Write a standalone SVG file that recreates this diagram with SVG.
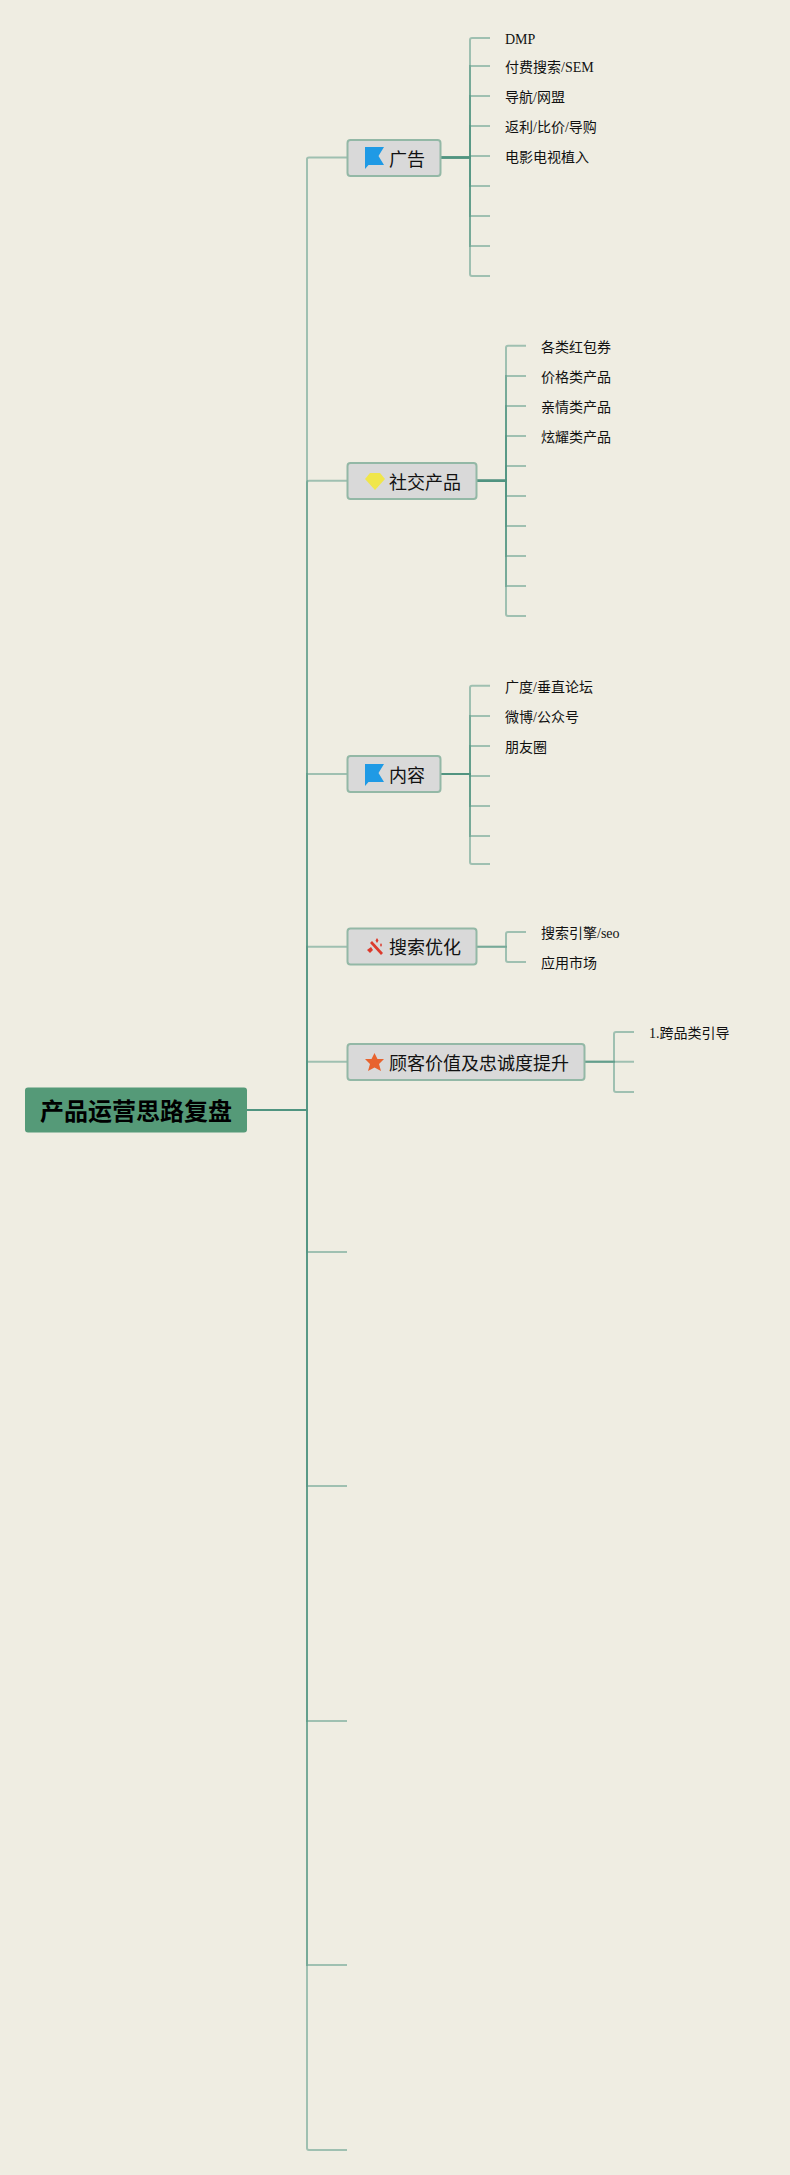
<svg xmlns="http://www.w3.org/2000/svg" width="790" height="2175" viewBox="0 0 790 2175">
<style>
.c{fill:none;stroke:#4f9480;stroke-width:2;stroke-opacity:.5}
.n{fill:#d9d9d9;stroke:#93b8a6;stroke-width:2}
.t{font-family:"Noto Sans CJK SC","Liberation Sans",sans-serif;font-size:18px;fill:#111}
.s{font-family:"Liberation Serif","Noto Sans CJK SC",serif;font-size:14px;fill:#111}
.r{font-family:"Noto Sans CJK SC","Liberation Sans",sans-serif;font-size:24px;font-weight:700;fill:#000}
</style>
<defs><path id="flag" d="M365 147H384L378.500 156L384 165H368.500L365 169Z" fill="#1f9ae5"/></defs>
<rect width="790" height="2175" fill="#efede2"/>
<g id="connectors">
<path class="c" d="M247 1110H307V159Q307 157.500 309 157.500H347"/>
<path class="c" d="M247 1110H307V482.700Q307 480.700 309 480.700H347"/>
<path class="c" d="M247 1110H307V774H347"/>
<path class="c" d="M247 1110H307V946.700H347"/>
<path class="c" d="M247 1110H307V1061.700H347"/>
<path class="c" d="M247 1110H307V1252H347"/>
<path class="c" d="M247 1110H307V1486H347"/>
<path class="c" d="M247 1110H307V1721H347"/>
<path class="c" d="M247 1110H307V1965H347"/>
<path class="c" d="M247 1110H307V2148Q307 2150 309 2150H347"/>
<path class="c" d="M440 157.500H470V40Q470 38 472 38H490"/>
<path class="c" d="M440 157.500H470V66H490"/>
<path class="c" d="M440 157.500H470V96H490"/>
<path class="c" d="M440 157.500H470V126H490"/>
<path class="c" d="M440 157.500H470V156H490"/>
<path class="c" d="M440 157.500H470V186H490"/>
<path class="c" d="M440 157.500H470V216H490"/>
<path class="c" d="M440 157.500H470V246H490"/>
<path class="c" d="M440 157.500H470V274Q470 276 472 276H490"/>
<path class="c" d="M476 480.700H506V347.700Q506 345.700 508 345.700H526"/>
<path class="c" d="M476 480.700H506V376H526"/>
<path class="c" d="M476 480.700H506V406H526"/>
<path class="c" d="M476 480.700H506V436H526"/>
<path class="c" d="M476 480.700H506V466H526"/>
<path class="c" d="M476 480.700H506V496H526"/>
<path class="c" d="M476 480.700H506V526H526"/>
<path class="c" d="M476 480.700H506V556H526"/>
<path class="c" d="M476 480.700H506V586H526"/>
<path class="c" d="M476 480.700H506V614Q506 616 508 616H526"/>
<path class="c" d="M440 774H470V687.700Q470 685.700 472 685.700H490"/>
<path class="c" d="M440 774H470V716H490"/>
<path class="c" d="M440 774H470V746H490"/>
<path class="c" d="M440 774H470V776H490"/>
<path class="c" d="M440 774H470V806H490"/>
<path class="c" d="M440 774H470V836H490"/>
<path class="c" d="M440 774H470V862Q470 864 472 864H490"/>
<path class="c" d="M476 946.700H506V934Q506 932 508 932H526"/>
<path class="c" d="M476 946.700H506V960Q506 962 508 962H526"/>
<path class="c" d="M584 1061.700H614V1034Q614 1032 616 1032H634"/>
<path class="c" d="M584 1061.700H634"/>
<path class="c" d="M584 1061.700H614V1090Q614 1092 616 1092H634"/>
</g>
<g id="root"><rect x="25" y="1087.500" width="222" height="45" rx="3" fill="#559a78"/><text class="r" x="40" y="1120">产品运营思路复盘</text></g>
<g id="node-ad"><rect class="n" x="347.500" y="140" width="93" height="36" rx="3"/><use href="#flag"/><text class="t" x="389" y="165.500">广告</text></g>
<g id="node-social"><rect class="n" x="347.500" y="463" width="129" height="36" rx="3"/><path d="M370 473H380L385 479L375 490L365 479Z" fill="#f0e64a"/><text class="t" x="389" y="488.500">社交产品</text></g>
<g id="node-content"><rect class="n" x="347.500" y="756" width="93" height="36" rx="3"/><use href="#flag" y="617"/><text class="t" x="389" y="781.500">内容</text></g>
<g id="node-seo"><rect class="n" x="347.500" y="928.500" width="129" height="36" rx="3"/><g fill="#dc3a2c"><path d="M372 941L383 953L381 955L370 943Z"/><path d="M371 947L373 950L370 953L367 950Z"/><path d="M377 938L378.500 940.500L377 943L375.500 940.500Z"/><path d="M381 943L382 945L381 947L380 945Z"/></g><text class="t" x="389" y="954">搜索优化</text></g>
<g id="node-value"><rect class="n" x="347.500" y="1044" width="237" height="36" rx="3"/><path d="M374.500 1053L377.500 1059H384L379 1064L381 1071L374.500 1067.500L368 1071L370 1064L365 1059H371.500Z" fill="#e8632e"/><text class="t" x="389" y="1069.500">顾客价值及忠诚度提升</text></g>
<g id="leaves">
<text class="s" x="505" y="44">DMP</text>
<text class="s" x="505" y="72">付费搜索/SEM</text>
<text class="s" x="505" y="102">导航/网盟</text>
<text class="s" x="505" y="132">返利/比价/导购</text>
<text class="s" x="505" y="162">电影电视植入</text>
<text class="s" x="541" y="352">各类红包券</text>
<text class="s" x="541" y="382">价格类产品</text>
<text class="s" x="541" y="412">亲情类产品</text>
<text class="s" x="541" y="442">炫耀类产品</text>
<text class="s" x="505" y="692">广度/垂直论坛</text>
<text class="s" x="505" y="722">微博/公众号</text>
<text class="s" x="505" y="752">朋友圈</text>
<text class="s" x="541" y="938">搜索引擎/seo</text>
<text class="s" x="541" y="968">应用市场</text>
<text class="s" x="649" y="1038">1.跨品类引导</text>
</g>
</svg>
